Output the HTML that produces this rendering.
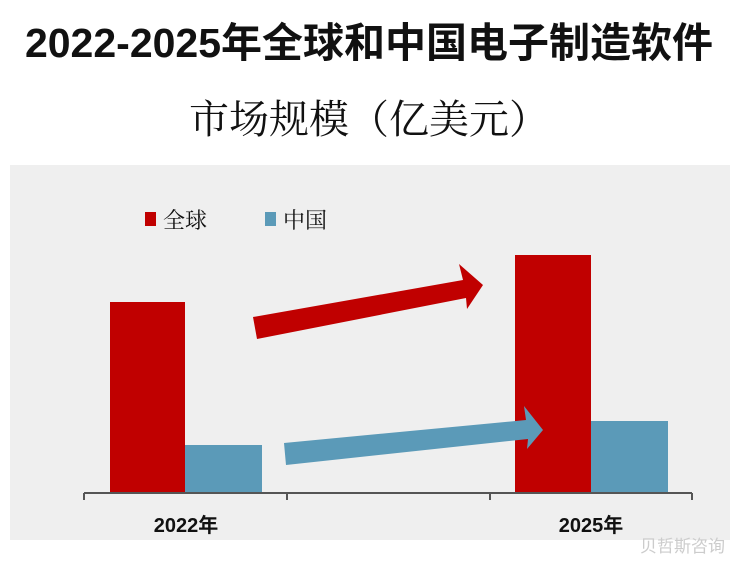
<!DOCTYPE html>
<html><head><meta charset="utf-8"><style>
body{margin:0;width:738px;height:562px;background:#fff;overflow:hidden;position:relative;font-family:"Liberation Sans","Noto Sans CJK SC",sans-serif}
.t{position:absolute;left:0;width:738px;text-align:center;color:#111;white-space:nowrap}
</style></head><body>
<div class="t" style="top:18px;font-size:41px;font-weight:bold;line-height:50px">2022-2025年全球和中国电子制造软件</div>
<div class="t" style="top:92px;font-size:40px;line-height:50px;font-family:'Noto Serif CJK SC','Noto Sans CJK SC',serif">市场规模（亿美元）</div>
<svg style="position:absolute;left:0;top:0" width="738" height="562">
<rect x="10" y="165" width="720" height="375" fill="#efefef"/>
<rect x="110" y="302" width="75" height="190" fill="#c00000"/>
<rect x="185" y="445" width="77" height="47" fill="#5b9ab8"/>
<rect x="515" y="255" width="76" height="237" fill="#c00000"/>
<rect x="591" y="421" width="77" height="71" fill="#5b9ab8"/>
<polygon points="253,317 463,280 459,264 483,285 467,309 466,298 257,339" fill="#c00000"/>
<polygon points="284,443 526,420 524,406 543,430 527,449 528,439 286,465" fill="#5b9ab8"/>
<g stroke="#555" stroke-width="2" fill="none">
<line x1="84" y1="493" x2="692" y2="493"/>
<line x1="84" y1="493" x2="84" y2="500"/><line x1="287" y1="493" x2="287" y2="500"/>
<line x1="490" y1="493" x2="490" y2="500"/><line x1="692" y1="493" x2="692" y2="500"/>
</g>
<rect x="145" y="212" width="11" height="14" fill="#c00000"/>
<rect x="265" y="212" width="11" height="14" fill="#5b9ab8"/>
<g font-family="Noto Serif CJK SC,serif" font-size="22" fill="#111">
<text x="163" y="228">全球</text><text x="283" y="228">中国</text></g>
<g font-family="Liberation Sans,Noto Sans CJK SC,sans-serif" font-size="20" font-weight="bold" fill="#111" text-anchor="middle">
<text x="186" y="532">2022年</text><text x="591" y="532">2025年</text></g>
<text x="725" y="552" text-anchor="end" font-size="17" fill="#ccc" font-family="Noto Sans CJK SC,sans-serif">贝哲斯咨询</text>
</svg>
</body></html>
